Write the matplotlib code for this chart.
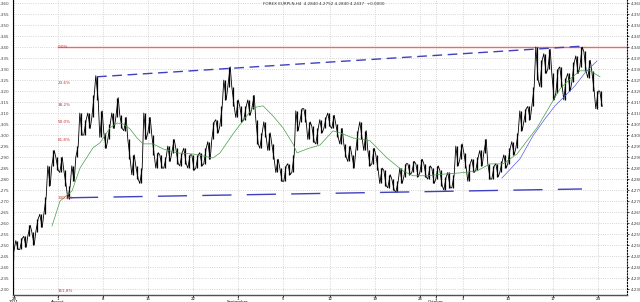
import numpy as np
import matplotlib
matplotlib.use("Agg")
from matplotlib import pyplot as plt
from matplotlib.ticker import MultipleLocator, FormatStrFormatter

# H4 bars, high / low
highs = [4.248, 4.252, 4.253, 4.254, 4.259, 4.256, 4.262, 4.264, 4.272, 4.286,
         4.293, 4.290, 4.290, 4.284, 4.277, 4.286, 4.295, 4.310, 4.307, 4.310,
         4.318, 4.327, 4.311, 4.301, 4.305, 4.310, 4.317, 4.309, 4.308, 4.298,
         4.291, 4.286, 4.285, 4.310, 4.308, 4.300, 4.292, 4.291, 4.290, 4.295,
         4.298, 4.294, 4.292, 4.294, 4.291, 4.291, 4.291, 4.292, 4.294, 4.297,
         4.306, 4.307, 4.313, 4.325, 4.331, 4.322, 4.316, 4.313, 4.313, 4.316,
         4.318, 4.307, 4.301, 4.306, 4.301, 4.296, 4.289, 4.285, 4.286, 4.287,
         4.291, 4.311, 4.312, 4.312, 4.306, 4.304, 4.303, 4.307, 4.308, 4.310,
         4.309, 4.305, 4.303, 4.296, 4.295, 4.291, 4.302, 4.306, 4.302, 4.293,
         4.294, 4.291, 4.285, 4.284, 4.282, 4.280, 4.279, 4.285, 4.287, 4.287,
         4.288, 4.287, 4.289, 4.287, 4.286, 4.285, 4.286, 4.284, 4.281, 4.283,
         4.282, 4.295, 4.296, 4.292, 4.287, 4.289, 4.290, 4.293, 4.298, 4.287,
         4.286, 4.287, 4.288, 4.291, 4.294, 4.297, 4.301, 4.311, 4.312, 4.313,
         4.322, 4.340, 4.334, 4.337, 4.339, 4.328, 4.330, 4.331, 4.326, 4.328,
         4.333, 4.336, 4.340, 4.338, 4.334, 4.329, 4.320, 4.320]
lows = [4.243, 4.248, 4.248, 4.249, 4.254, 4.250, 4.256, 4.258, 4.264, 4.277,
        4.286, 4.284, 4.283, 4.277, 4.271, 4.279, 4.290, 4.300, 4.300, 4.303,
        4.308, 4.316, 4.299, 4.294, 4.298, 4.303, 4.308, 4.303, 4.302, 4.289,
        4.282, 4.280, 4.278, 4.298, 4.301, 4.291, 4.285, 4.285, 4.285, 4.288,
        4.292, 4.287, 4.286, 4.287, 4.285, 4.284, 4.285, 4.286, 4.287, 4.289,
        4.298, 4.301, 4.304, 4.316, 4.322, 4.313, 4.308, 4.306, 4.307, 4.309,
        4.312, 4.296, 4.294, 4.299, 4.293, 4.289, 4.283, 4.279, 4.279, 4.282,
        4.283, 4.302, 4.306, 4.306, 4.298, 4.297, 4.296, 4.301, 4.303, 4.304,
        4.303, 4.299, 4.296, 4.290, 4.288, 4.285, 4.293, 4.298, 4.293, 4.286,
        4.287, 4.284, 4.278, 4.277, 4.276, 4.275, 4.274, 4.278, 4.281, 4.282,
        4.283, 4.281, 4.283, 4.281, 4.280, 4.278, 4.280, 4.277, 4.275, 4.276,
        4.276, 4.286, 4.289, 4.285, 4.279, 4.283, 4.284, 4.286, 4.292, 4.280,
        4.280, 4.281, 4.283, 4.285, 4.287, 4.291, 4.294, 4.302, 4.306, 4.307,
        4.313, 4.325, 4.322, 4.328, 4.330, 4.316, 4.319, 4.322, 4.316, 4.320,
        4.324, 4.328, 4.331, 4.329, 4.326, 4.320, 4.312, 4.313]

# moving averages (bar index, price)
ma_green_x = [9.75, 11.75, 14.75, 16.75, 20, 21.75, 24.25, 26, 27.5, 29.25, 31, 32.5,
              35, 37.5, 41, 45, 50, 51.75, 55, 57.5, 60, 62.5, 65, 67.5, 70, 71,
              73.5, 76.75, 80, 81.75, 85, 89.25, 93.5, 97.5, 100, 103.5, 108.5,
              111.75, 116, 119.25, 122.5, 126, 128.5, 131, 133.5, 136.75, 139.25,
              141.75, 144.25, 146.75]
ma_green_y = [4.2587, 4.2700, 4.2746, 4.2850, 4.2942, 4.2965, 4.3033, 4.3055, 4.3051,
              4.3028, 4.2987, 4.2960, 4.2960, 4.2937, 4.2919, 4.2914, 4.2896, 4.2919,
              4.3005, 4.3065, 4.3124, 4.3133, 4.3087, 4.3033, 4.2960, 4.2919, 4.2937,
              4.2955, 4.3019, 4.3010, 4.2987, 4.2974, 4.2896, 4.2837, 4.2815, 4.2815,
              4.2824, 4.2828, 4.2837, 4.2869, 4.2869, 4.2914, 4.2974, 4.3033, 4.3110,
              4.3210, 4.3255, 4.3292, 4.3292, 4.3265]
ma_blue_x = [122.25, 126.75, 130, 133, 135.5, 138, 140.5, 143, 146]
ma_blue_y = [4.2805, 4.2892, 4.2997, 4.3074, 4.3133, 4.3178, 4.3224, 4.3283, 4.3337]

# trend lines
upper_x = [21, 143]
upper_y = [4.3265, 4.3405]
lower_x = [14, 142.25]
lower_y = [4.2715, 4.2755]

# fibonacci
fib_top = 4.340
fib_bottom = 4.2715
fib_levels = [0.0, 0.236, 0.382, 0.5, 0.618, 1.0, 1.618]
fib_labels = ["0.0%", "23.6%", "38.2%", "50.0%", "61.8%", "100.0%", "161.8%"]
fib_start = 11.25

tick_pos = [0.25, 11.25, 22.5, 33.75, 45, 56.25, 67.5, 79.25, 90.5, 101.75,
            105.75, 112.5, 123.75, 135, 146.25]
tick_lab = ["28\n2011", "1\nAugust", "8", "15", "22", "1\nSeptember", "5", "12",
            "19", "26", "1\nOctober", "3", "10", "17", "24"]

title = "FOREX EURPLN,H4  4.2840 4.2752 4.2840 4.2437  +0.0000"

fig = plt.figure(figsize=(6.4, 3.02), dpi=100)
ax = fig.add_axes([12.7 / 640, 7 / 302, (627 - 12.7) / 640, 295 / 302])
ax.set_xlim(-0.075, 153.5)
ax.set_ylim(4.2273, 4.3614)

x = np.arange(len(highs))
ax.vlines(x, lows, highs, color="black", lw=0.9, zorder=3)
zx, zy = [], []
for i in x:
    a, b = (lows[i], highs[i]) if i % 2 == 0 else (highs[i], lows[i])
    zx += [i - 0.3, i + 0.3]
    zy += [a, b]
ax.plot(zx, zy, color="black", lw=0.6, zorder=3)

ax.plot(ma_green_x, ma_green_y, color="#45a045", lw=0.5, zorder=4)
ax.plot(ma_blue_x, ma_blue_y, color="#5a5ae0", lw=0.5, zorder=4)

ax.plot(upper_x, upper_y, color="#4040c0", lw=1.0, dashes=(7, 4), zorder=4)
ax.plot(lower_x, lower_y, color="#4040c0", lw=1.0, dashes=(21, 11), zorder=4)

ax.plot([fib_start, 153.5], [fib_top, fib_top], color="#e07070", lw=1.0, zorder=2)
for f, lab in zip(fib_levels, fib_labels):
    lvl = fib_top - f * (fib_top - fib_bottom)
    ax.text(fib_start, lvl, lab, color="#d03030", fontsize=3.0, va="center", ha="left", zorder=5)

ax.yaxis.set_major_locator(MultipleLocator(0.005))
ax.yaxis.set_major_formatter(FormatStrFormatter("%.3f"))
ax.set_xticks(tick_pos)
ax.set_xticklabels(tick_lab, linespacing=0.85)
ax.grid(True, color="#c8c8c8", ls=":", lw=0.6)
ax.tick_params(axis="y", labelleft=True, labelright=True, left=False, right=True,
               labelsize=3.0, length=1.5, width=0.5, pad=1)
ax.tick_params(axis="x", labelsize=2.8, length=1.2, width=0.6, pad=0.2)
for lab in ax.get_yticklabels():
    lab.set_color("#404040")

ax.spines["top"].set_visible(False)
ax.spines["left"].set_color("black")
ax.spines["left"].set_linewidth(0.8)
ax.spines["bottom"].set_color("#505050")
ax.spines["bottom"].set_linewidth(1.0)
ax.spines["right"].set_linestyle(":")
ax.spines["right"].set_linewidth(0.8)

fig.text(0.506, 0.987, title, fontsize=3.0, ha="center", va="center", color="#303030")

fig.savefig("out.png", dpi=100)
